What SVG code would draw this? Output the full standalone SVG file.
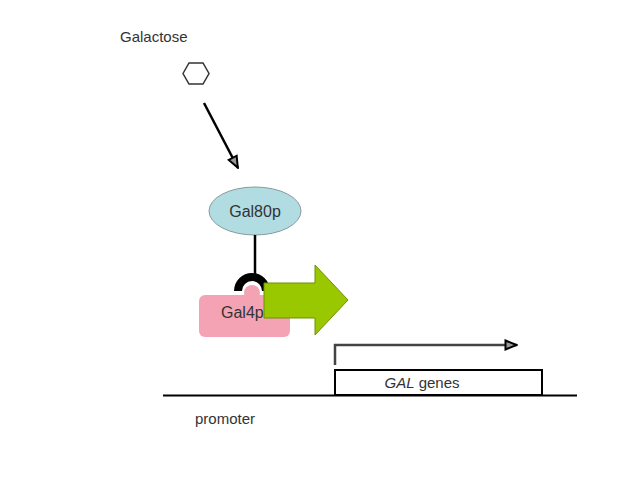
<svg xmlns="http://www.w3.org/2000/svg" width="640" height="480" viewBox="0 0 640 480">
  <style>
    .t { font-family: "Liberation Sans", Arial, sans-serif; fill: #333; }
    .ln { stroke: #000; stroke-width: 2.5; fill: none; }
  </style>
  <defs>
    <marker id="ah" viewBox="0 0 14 12" refX="13" refY="6" markerWidth="14" markerHeight="12" markerUnits="userSpaceOnUse" orient="auto">
      <path d="M1.5,1.5 L12.5,6 L1.5,10.5 Z" fill="#999" stroke="#000" stroke-width="2"/>
    </marker>
  </defs>
  <rect width="640" height="480" fill="#fff"/>

  <g id="galactose">
    <text class="t" x="120" y="42" font-size="15">Galactose</text>
    <polygon points="183,73.5 189,63 203,63 209,73.5 203,84 189,84" fill="#fff" stroke="#333" stroke-width="1.5"/>
  </g>

  <g id="gal80p">
    <ellipse cx="255" cy="211" rx="46" ry="24" fill="#b0dce2" stroke="#8a9a9c" stroke-width="1"/>
    <text class="t" x="255" y="217" font-size="16" text-anchor="middle">Gal80p</text>
  </g>

  <g id="gal4p">
    <circle cx="252" cy="293" r="8" fill="#f4a3b4"/>
    <rect x="199" y="295" width="91" height="42" rx="6" fill="#f4a3b4"/>
    <text class="t" x="221" y="318" font-size="16">Gal4p</text>
    <path d="M234,291 A18,18 0 0 1 270,291 L262,291 A10,10 0 0 0 242,291 Z" fill="#000"/>
  </g>

  <g id="activation">
    <polygon points="264,283 315,283 315,265 348,300 315,335 315,318 264,318" fill="#99c800" stroke="#6f9000" stroke-width="1"/>
  </g>

  <g id="gal-genes">
    <rect x="335" y="370" width="207" height="25" fill="#fff" stroke="#000" stroke-width="2"/>
    <text class="t" x="422" y="388" font-size="15" text-anchor="middle"><tspan font-style="italic">GAL</tspan> genes</text>
  </g>

  <g id="promoter">
    <text class="t" x="195" y="424" font-size="15">promoter</text>
  </g>

  <g id="connectors">
    <line class="ln" x1="204" y1="103" x2="238" y2="168" marker-end="url(#ah)"/>
    <line class="ln" x1="255" y1="235" x2="255" y2="280"/>
    <line x1="163" y1="395.5" x2="577" y2="395.5" stroke="#000" stroke-width="2"/>
    <path d="M335,365 L335,345 L517,345" fill="none" stroke="#444" stroke-width="2.5" marker-end="url(#ah)"/>
  </g>
</svg>
